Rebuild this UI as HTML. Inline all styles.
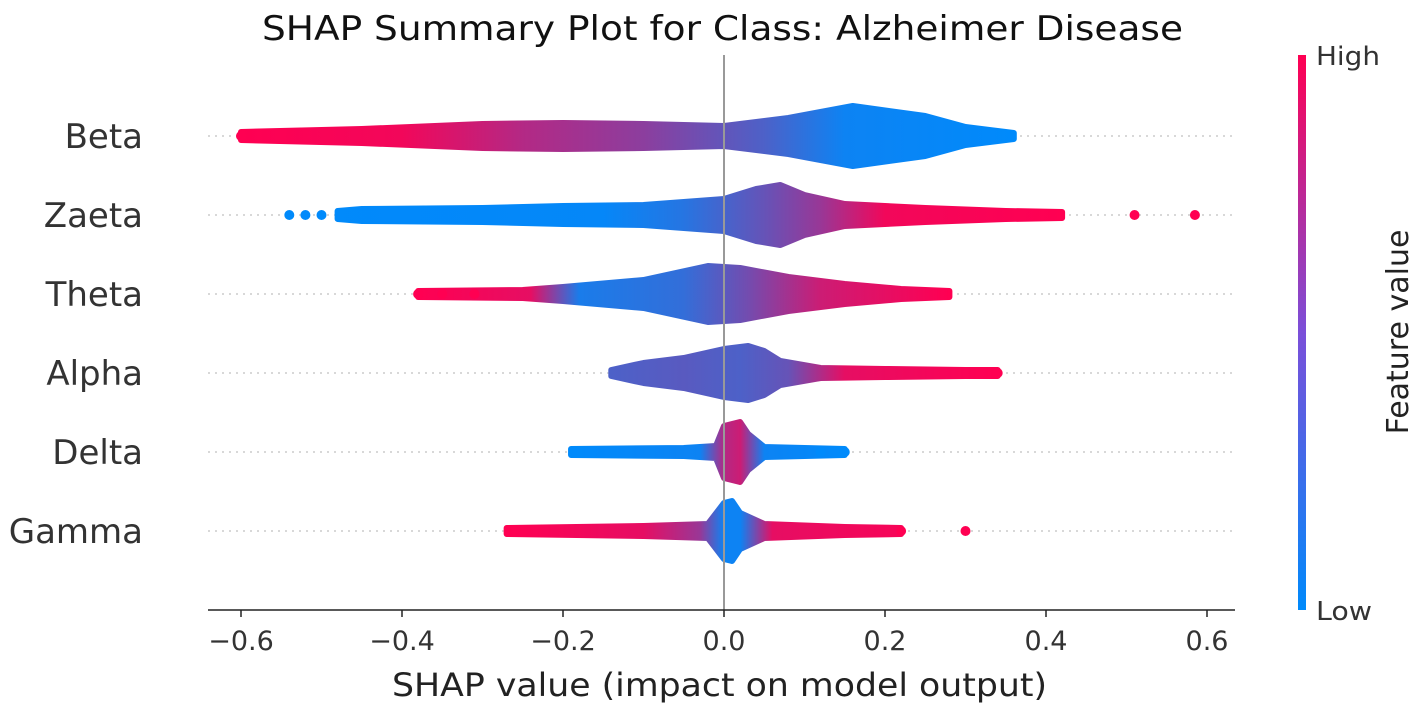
<!DOCTYPE html>
<html><head><meta charset="utf-8"><style>
body{margin:0;background:#fff;width:1417px;height:712px;overflow:hidden;font-family:"Liberation Sans","DejaVu Sans",sans-serif}
</style></head><body>
<svg id="chart" width="1417" height="712" xmlns="http://www.w3.org/2000/svg" font-family="DejaVu Sans, Liberation Sans, sans-serif">
<defs>
<linearGradient id="cbar" x1="0" y1="1" x2="0" y2="0"><stop offset="0" stop-color="#008afb"/><stop offset="0.5" stop-color="#7b4fd9"/><stop offset="1" stop-color="#ff0052"/></linearGradient>
</defs>
<text x="262" y="40" font-size="34" textLength="921" lengthAdjust="spacingAndGlyphs" fill="#111">SHAP Summary Plot for Class: Alzheimer Disease</text>
<g id="grid"></g>
<g id="swarms"></g>
<line x1="724" y1="55" x2="724" y2="610" stroke="#999" stroke-width="2"/>
<line x1="208" y1="610" x2="1235" y2="610" stroke="#222" stroke-width="1.5"/>
<g id="xticks"></g>
<g id="ylabels"></g>
<text x="392" y="696" font-size="32" textLength="655" lengthAdjust="spacingAndGlyphs" fill="#222">SHAP value (impact on model output)</text>
<rect x="1298" y="55" width="8" height="555" fill="url(#cbar)"/>
<text x="1316" y="65" font-size="26" textLength="64" lengthAdjust="spacingAndGlyphs" fill="#333">High</text>
<text x="1316" y="620" font-size="26" textLength="56" lengthAdjust="spacingAndGlyphs" fill="#333">Low</text>
<text transform="translate(1408,332) rotate(-90)" font-size="30" text-anchor="middle" fill="#222">Feature value</text>
</svg>
<script>
const features = ["Beta","Zaeta","Theta","Alpha","Delta","Gamma"];
const betaX = [-0.6,-0.45,-0.3,-0.2,-0.1,0,0.08,0.16,0.25,0.3,0.36];
const betaW = [4,7,12,13,12,10,18,30,20,9,3];
const zaetaX = [-0.48,-0.45,-0.3,-0.2,-0.1,0,0.04,0.07,0.1,0.15,0.25,0.35,0.42];
const zaetaW = [4,6,7,9,10,16,26,30,20,11,7,4,3];
const thetaX = [-0.38,-0.25,-0.2,-0.1,-0.02,0.02,0.08,0.15,0.22,0.28];
const thetaW = [3,4,7,14,28,26,17,10,5,3];
const alphaX = [-0.14,-0.1,-0.05,0,0.03,0.05,0.07,0.12,0.2,0.3,0.34];
const alphaW = [3,10,15,24,27,22,12,5,4,3,3];
const deltaX = [-0.19,-0.05,-0.01,0,0.02,0.03,0.05,0.1,0.15];
const deltaW = [3,4,6,26,30,18,5,4,3];
const gammaX = [-0.27,-0.1,-0.02,0,0.01,0.02,0.05,0.15,0.22];
const gammaW = [3,5,7,28,30,18,7,4,3];
// feature-value color profiles (x, value 0=low 1=high)
const betaCX=[-0.6,-0.4,-0.25,-0.1,0.05,0.15,0.36], betaCV=[1,0.95,0.7,0.55,0.3,0.05,0];
const zaetaCX=[-0.54,-0.15,-0.05,0.05,0.12,0.2,0.42], zaetaCV=[0,0.02,0.15,0.4,0.6,0.95,1];
const thetaCX=[-0.38,-0.24,-0.18,-0.05,0.03,0.12,0.28], thetaCV=[1,0.9,0.1,0.2,0.45,0.8,1];
const alphaCX=[-0.14,-0.05,0.02,0.08,0.15,0.34], alphaCV=[0.3,0.35,0.3,0.4,0.9,1];
const deltaCX=[-0.19,-0.03,0,0.02,0.05,0.15], deltaCV=[0,0.05,0.7,0.8,0.05,0];
const gammaCX=[-0.27,-0.1,-0.03,0,0.02,0.06,0.3], gammaCV=[1,0.9,0.6,0.05,0.05,0.9,1];
const outX=[[-0.6],[ -0.54,-0.52,-0.5,0.51,0.585],[-0.38,-0.35,-0.31],[0.34],[0.12,0.15],[0.22,0.3]];
const outV=[[1],[0,0,0,1,1],[1,1,1],[1],[0,0],[1,1]];
const xTicks=[-0.6,-0.4,-0.2,0,0.2,0.4,0.6];
const xTickLabels=["\u22120.6","\u22120.4","\u22120.2","0.0","0.2","0.4","0.6"];

const NS="http://www.w3.org/2000/svg";
const xs=v=>724+v*805;
const rowY=i=>136+i*79;
function col(v){const a=[0,138,251],b=[255,0,82];return `rgb(${a.map((c,k)=>Math.round(c+(b[k]-c)*v)).join(",")})`;}
function mk(t,at,p){const e=document.createElementNS(NS,t);for(const k in at)e.setAttribute(k,at[k]);p.appendChild(e);return e;}
const X=[betaX,zaetaX,thetaX,alphaX,deltaX,gammaX],W=[betaW,zaetaW,thetaW,alphaW,deltaW,gammaW];
const CX=[betaCX,zaetaCX,thetaCX,alphaCX,deltaCX,gammaCX],CV=[betaCV,zaetaCV,thetaCV,alphaCV,deltaCV,gammaCV];
const defs=document.querySelector("defs"),grid=document.getElementById("grid"),sw=document.getElementById("swarms");
features.forEach((f,i)=>{
  const y=rowY(i);
  const g=mk("line",{x1:208,x2:1235,y1:y,y2:y,stroke:"#ccc","stroke-width":1.5,"stroke-dasharray":"2,5"},grid);
  
  
  const gr=mk("linearGradient",{id:"g"+i,gradientUnits:"userSpaceOnUse",x1:xs(CX[i][0]),x2:xs(CX[i][CX[i].length-1]),y1:0,y2:0},defs);
  const x0=xs(CX[i][0]),x1=xs(CX[i][CX[i].length-1]);
  CX[i].forEach((c,k)=>mk("stop",{offset:((xs(c)-x0)/(x1-x0)).toFixed(3),"stop-color":col(CV[i][k])},gr));
  let top=X[i].map((v,k)=>`${xs(v)},${y-W[i][k]}`),bot=X[i].map((v,k)=>`${xs(v)},${y+W[i][k]}`).reverse();
  const p=mk("polygon",{points:top.concat(bot).join(" "),fill:`url(#g${i})`,stroke:`url(#g${i})`,"stroke-width":6,"stroke-linejoin":"round"},sw);
  
  
  outX[i].forEach((v,k)=>{
    const c=mk("circle",{cx:xs(v),cy:y,r:5,fill:col(outV[i][k])},sw);
    
    
  });
  const t=mk("text",{x:143,y:y+12,"font-size":34,"text-anchor":"end",fill:"#333"},document.getElementById("ylabels"));
  t.textContent=f;
  
  
});
const xt=document.getElementById("xticks");
xTicks.forEach((v,k)=>{
  const l=mk("line",{x1:xs(v),x2:xs(v),y1:610,y2:617,stroke:"#222","stroke-width":1.5},xt);
  
  
  const t=mk("text",{x:xs(v),y:650,"font-size":27,"text-anchor":"middle",fill:"#333"},xt);
  t.textContent=xTickLabels[k];
  
  
});
</script>
</body></html>
